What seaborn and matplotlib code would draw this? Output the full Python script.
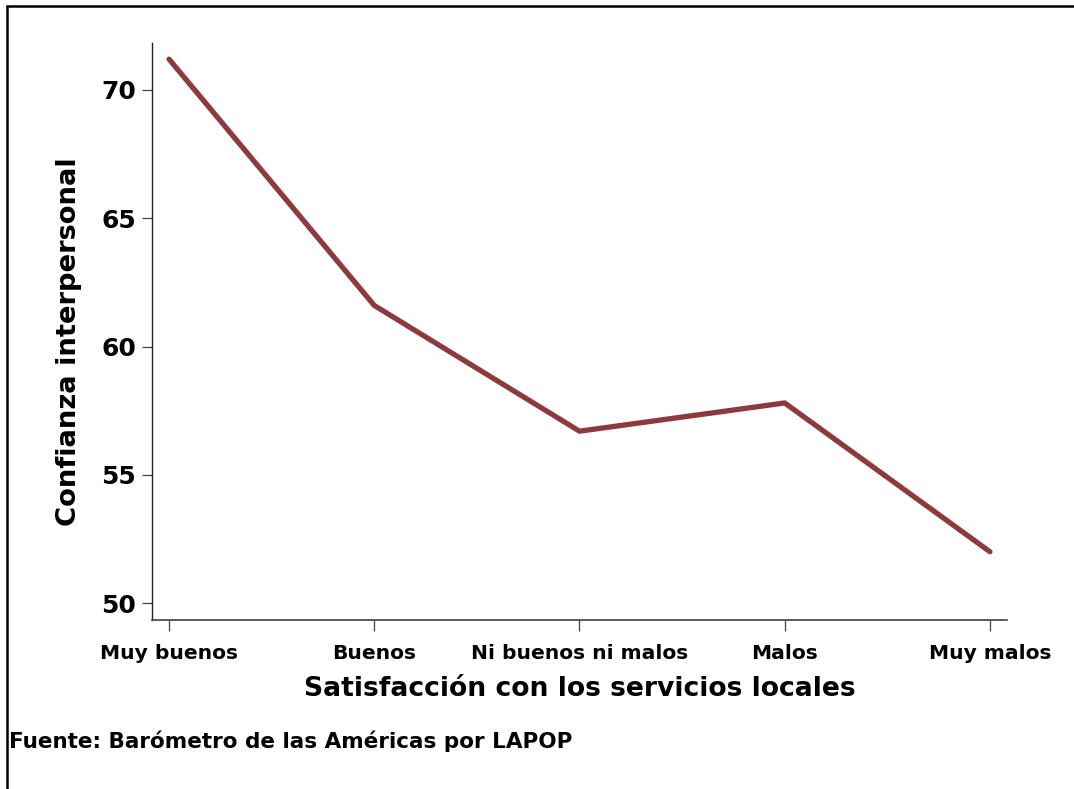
import pandas as pd
import seaborn as sns
import matplotlib
matplotlib.use("Agg")
import matplotlib.pyplot as plt
from matplotlib.lines import Line2D

categories = ["Muy buenos", "Buenos", "Ni buenos ni malos", "Malos", "Muy malos"]
values = [71.2, 61.6, 56.7, 57.8, 52.0]
yticks = [50, 55, 60, 65, 70]

sns.set_theme(style="white")
plt.rcParams["font.family"] = ["DejaVu Sans"]
plt.rcParams["font.weight"] = "bold"

W, H = 1074, 789
fig = plt.figure(figsize=(W / 100, H / 100), dpi=100)
fig.patch.set_facecolor("white")
ax = fig.add_axes([152 / W, 1 - 620 / H, (1007 - 152) / W, (620 - 43) / H])

df = pd.DataFrame({"cat": categories, "val": values})
sns.lineplot(data=df, x="cat", y="val", color="#8d3a3f", lw=3.8, ax=ax,
             sort=False, solid_capstyle="round")

ax.set_xlim(-0.083, 4.083)
ax.set_ylim(49.34, 71.83)
ax.set_yticks(yticks)
ax.set_yticklabels([str(v) for v in yticks])

for s in ["top", "right"]:
    ax.spines[s].set_visible(False)
ax.spines["left"].set_color("#222222")
ax.spines["bottom"].set_color("#404040")
ax.spines["left"].set_linewidth(1.0)
ax.spines["bottom"].set_linewidth(1.2)

ax.tick_params(axis="x", which="major", bottom=True, length=8, width=0.9,
               color="#404040", pad=9, labelsize=14.6, labelcolor="black")
ax.tick_params(axis="y", which="major", left=True, length=7.5, width=0.9,
               color="#404040", pad=4, labelsize=18, labelcolor="black")
for lab in ax.get_xticklabels() + ax.get_yticklabels():
    lab.set_fontweight("bold")

ax.set_xlabel("Satisfacción con los servicios locales", fontsize=19.2,
              fontweight="bold", color="black", labelpad=10)
ax.set_ylabel("Confianza interpersonal", fontsize=19.7, fontweight="bold",
              color="black", labelpad=14)
ax.yaxis.set_label_coords(-0.082, 0.482)

fig.text(9 / W, 1 - 748 / H, "Fuente: Barómetro de las Américas por LAPOP",
         fontsize=15.5, fontweight="bold", color="black", ha="left", va="baseline")

# outer frame (top and left edges)
fig.add_artist(Line2D([7 / W, 1.0], [1 - 6 / H, 1 - 6 / H], color="black",
                      lw=1.8, transform=fig.transFigure))
fig.add_artist(Line2D([7 / W, 7 / W], [1 - 6 / H, 0.0], color="black",
                      lw=1.8, transform=fig.transFigure))

fig.savefig("out.png", dpi=100)
